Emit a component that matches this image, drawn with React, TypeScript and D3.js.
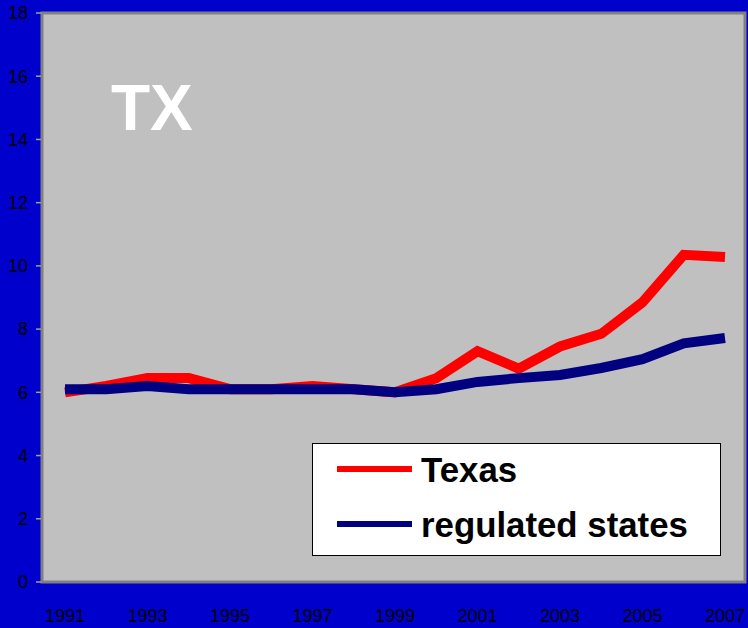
import React from "react";
import * as d3 from "d3";

const years = [1991, 1992, 1993, 1994, 1995, 1996, 1997, 1998, 1999, 2000, 2001, 2002, 2003, 2004, 2005, 2006, 2007];
const texas = [6.0, 6.2, 6.45, 6.45, 6.1, 6.1, 6.2, 6.1, 6.0, 6.45, 7.3, 6.75, 7.45, 7.85, 8.85, 10.35, 10.28];
const regulated = [6.1, 6.1, 6.2, 6.1, 6.1, 6.1, 6.1, 6.1, 6.0, 6.1, 6.33, 6.45, 6.55, 6.77, 7.05, 7.55, 7.72];
const yTicks = [0, 2, 4, 6, 8, 10, 12, 14, 16, 18];
const xTickYears = [1991, 1993, 1995, 1997, 1999, 2001, 2003, 2005, 2007];
const seriesNames = ["Texas", "regulated states"];
const seriesColors = ["#FF0000", "#000080"];
const title = "TX";

const W = 748;
const H = 628;
const plot = { left: 42, top: 13, right: 745, bottom: 582 };

export default function App() {
  const x = d3.scaleLinear().domain([1991, 2007]).range([65, 725]);
  const y = d3.scaleLinear().domain([0, 18]).range([plot.bottom, plot.top]);
  const line = d3
    .line<number>()
    .x((_, i) => x(years[i]))
    .y((d) => y(d));
  const font = "'Liberation Sans', Arial, sans-serif";
  const series = [texas, regulated];
  return (
    <svg
      width={W}
      height={H}
      style={{ position: "absolute", left: 0, top: 0, display: "block" }}
      fontFamily={font}
    >
      <rect x={0} y={0} width={W} height={H} fill="#0000CC" />
      <rect
        x={plot.left}
        y={plot.top}
        width={plot.right - plot.left}
        height={plot.bottom - plot.top}
        fill="#C0C0C0"
        stroke="#808080"
        strokeWidth={3}
      />
      {yTicks.map((t) => (
        <g key={t}>
          <line x1={36} x2={plot.left - 1} y1={y(t)} y2={y(t)} stroke="#A0A0A0" strokeWidth={1.5} />
          <text x={28} y={y(t)} dy="0.35em" textAnchor="end" fontSize={18} fill="#000">
            {t}
          </text>
        </g>
      ))}
      {xTickYears.map((yr) => (
        <text key={yr} x={x(yr)} y={622} textAnchor="middle" fontSize={18} fill="#000">
          {yr}
        </text>
      ))}
      <text x={111} y={130} fontSize={64} fontWeight="bold" fill="#FFFFFF">
        {title}
      </text>
      {series.map((s, i) => (
        <path
          key={i}
          d={line(s) || ""}
          fill="none"
          stroke={seriesColors[i]}
          strokeWidth={10}
          strokeLinejoin="miter"
        />
      ))}
      <rect x={312.5} y={443.5} width={408} height={112} fill="#FFFFFF" stroke="#000" strokeWidth={1} />
      {seriesNames.map((n, i) => {
        const ly = 469 + i * 55;
        return (
          <g key={n}>
            <line x1={337} x2={412} y1={ly} y2={ly} stroke={seriesColors[i]} strokeWidth={6} />
            <text x={421} y={ly + 13} fontSize={34.8} fontWeight="bold" fill="#000">
              {n}
            </text>
          </g>
        );
      })}
    </svg>
  );
}
